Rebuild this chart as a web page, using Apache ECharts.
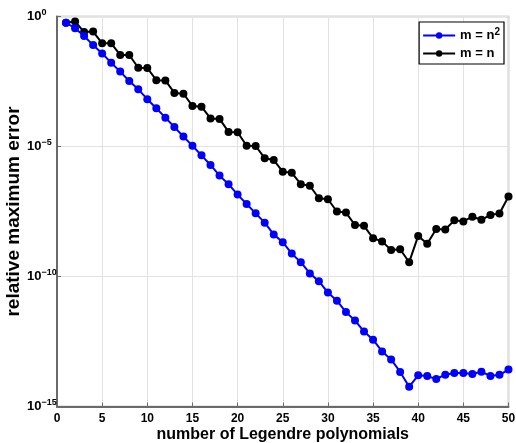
<!DOCTYPE html>
<html><head><meta charset="utf-8">
<script src="https://cdn.jsdelivr.net/npm/echarts@6/dist/echarts.min.js"></script>
<style>html,body{margin:0;padding:0;background:#fff}#c{width:516px;height:443px}</style>
</head><body><div id="c"></div>
<script>
const nValues = Array.from({length:50},(_,i)=>i+1);
// log10 of relative maximum error
const logErrSquare = [-0.24,-0.45,-0.75,-1.10,-1.42,-1.78,-2.12,-2.48,-2.80,-3.18,
  -3.53,-3.89,-4.25,-4.62,-4.97,-5.34,-5.71,-6.12,-6.45,-6.85,
  -7.21,-7.57,-7.93,-8.38,-8.68,-9.12,-9.45,-9.88,-10.18,-10.62,
  -10.93,-11.37,-11.69,-12.12,-12.43,-12.88,-13.19,-13.67,-14.24,-13.80,
  -13.83,-13.94,-13.78,-13.71,-13.71,-13.75,-13.66,-13.83,-13.78,-13.58];
const logErrLinear = [-0.24,-0.19,-0.60,-0.58,-1.03,-1.03,-1.48,-1.48,-1.97,-1.98,
  -2.45,-2.46,-2.94,-2.97,-3.44,-3.47,-3.92,-3.94,-4.44,-4.45,
  -4.97,-4.98,-5.45,-5.52,-5.97,-6.01,-6.45,-6.51,-6.99,-7.03,
  -7.50,-7.54,-8.02,-8.05,-8.53,-8.65,-8.98,-8.95,-9.45,-8.44,
  -8.74,-8.17,-8.19,-7.84,-7.88,-7.70,-7.82,-7.63,-7.58,-6.92];
const xTicks = [0,5,10,15,20,25,30,35,40,45,50];
const yTickExps = [0,-5,-10,-15];
const seriesNames = ['m = n²','m = n'];

const toPts = arr => arr.map((v,i)=>[nValues[i], Math.pow(10,v)]);
const FONT = 'Liberation Sans, Arial, sans-serif';
const chart = echarts.init(document.getElementById('c'));
chart.setOption({
  animation:false,
  grid:{left:57,right:7.5,top:16.5,bottom:36.5,containLabel:false,outerBoundsMode:'none',
        show:true,borderColor:'#a0a0a0',borderWidth:1.5},
  legend:{
    right:12, top:22, orient:'vertical', borderColor:'#000', borderWidth:1.2,
    backgroundColor:'#fff', padding:[5,4,4,3], itemGap:5, itemWidth:32, itemHeight:8,
    data:seriesNames,
    formatter: n => n==='m = n²' ? 'm = n{s|2}' : n,
    textStyle:{fontFamily:FONT,fontWeight:'bold',fontSize:13,color:'#000',
      rich:{s:{fontSize:10,fontWeight:'bold',verticalAlign:'top',padding:[0,0,7,0],fontFamily:FONT}}}
  },
  xAxis:{
    type:'value', min:0, max:50, interval:5,
    name:'number of Legendre polynomials', nameLocation:'middle', nameGap:20, nameMoveOverlap:false,
    nameTextStyle:{fontFamily:FONT,fontWeight:'bold',fontSize:16,color:'#000'},
    axisLine:{show:true,lineStyle:{color:'#6a6a6a',width:2}},
    axisTick:{show:true,inside:true,length:4,lineStyle:{color:'#6a6a6a'}},
    axisLabel:{fontFamily:FONT,fontWeight:'bold',fontSize:12,color:'#000',margin:6},
    splitLine:{show:true,lineStyle:{color:'#e2e2e2',width:1}}
  },
  yAxis:{
    type:'log', logBase:10, min:1e-15, max:1, interval:5,
    name:'relative maximum error', nameLocation:'middle', nameGap:34, nameMoveOverlap:false,
    nameTextStyle:{fontFamily:FONT,fontWeight:'bold',fontSize:19,color:'#000'},
    axisLine:{show:true,lineStyle:{color:'#6a6a6a',width:2}},
    axisTick:{show:true,inside:true,length:4,lineStyle:{color:'#6a6a6a'}},
    axisLabel:{
      margin:30, align:'left',
      formatter: v => { const e = Math.round(Math.log10(v)); return '{b|10}{s|' + (e<0?'\u2212'+(-e):e) + '}'; },
      rich:{
        b:{fontFamily:FONT,fontWeight:'bold',fontSize:13,color:'#000'},
        s:{fontFamily:FONT,fontWeight:'bold',fontSize:9,color:'#000',verticalAlign:'top',padding:[0,0,7,0]}
      }
    },
    splitLine:{show:true,lineStyle:{color:'#e2e2e2',width:1}},
    minorTick:{show:false}, minorSplitLine:{show:false}
  },
  series:[
    {name:seriesNames[0], type:'line', data:toPts(logErrSquare), color:'#0000ff',
     lineStyle:{width:2,color:'#0000ff'}, symbol:'circle', symbolSize:8,
     itemStyle:{color:'#0000ff'}, z:3},
    {name:seriesNames[1], type:'line', data:toPts(logErrLinear), color:'#000',
     lineStyle:{width:2,color:'#000'}, symbol:'circle', symbolSize:8,
     itemStyle:{color:'#000'}, z:2}
  ]
});
</script></body></html>
